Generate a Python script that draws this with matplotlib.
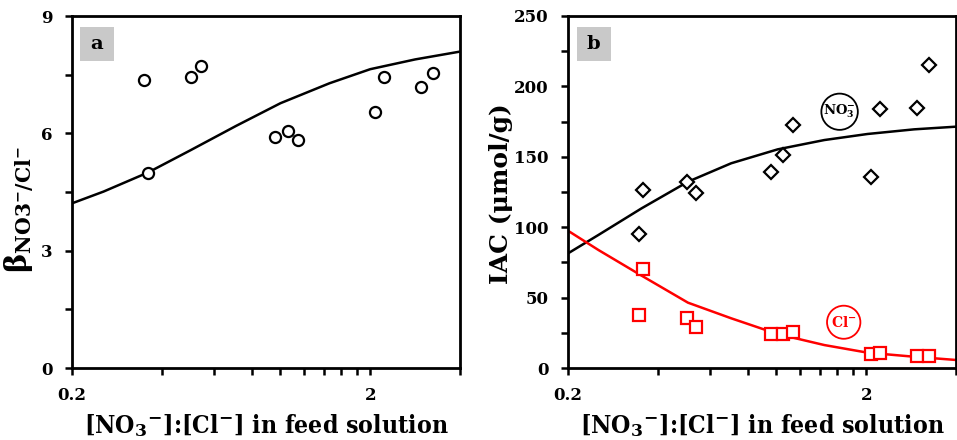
import matplotlib
matplotlib.use("Agg")
import matplotlib.pyplot as plt
from matplotlib.patches import Rectangle, Ellipse
from matplotlib.ticker import FixedLocator, NullFormatter

# ---------------- data ----------------
# panel a: selectivity coefficient
x_pts = [0.348, 0.360, 0.503, 0.542, 0.962, 1.061, 1.146, 2.07, 2.23, 2.96, 3.25]
beta_pts = [7.36, 4.99, 7.44, 7.73, 5.91, 6.06, 5.82, 6.55, 7.44, 7.19, 7.54]
beta_curve_x = [0.2, 0.255, 0.36, 0.5, 0.71, 1.0, 1.46, 2.0, 2.83, 4.0]
beta_curve_y = [4.21, 4.51, 5.00, 5.57, 6.19, 6.77, 7.28, 7.64, 7.89, 8.09]

# panel b: IAC
x_no3 = [0.358, 0.346, 0.50, 0.539, 0.957, 1.055, 1.137, 2.07, 2.22, 2.96, 3.24]
iac_no3 = [126.4, 95.2, 132.3, 124.5, 139.4, 151.3, 172.6, 135.9, 183.7, 184.9, 215.2]
x_cl = [0.358, 0.346, 0.50, 0.539, 0.957, 1.055, 1.137, 2.07, 2.22, 2.96, 3.24]
iac_cl = [70.1, 37.4, 35.3, 29.1, 24.4, 23.9, 25.8, 9.9, 10.9, 8.5, 8.5]
no3_curve_x = [0.2, 0.253, 0.353, 0.505, 0.705, 1.01, 1.447, 2.02, 2.895, 4.0]
no3_curve_y = [81.4, 94.5, 113.4, 132.3, 145.4, 155.3, 161.9, 166.2, 169.5, 171.4]
cl_curve_x = [0.2, 0.253, 0.353, 0.505, 0.705, 1.01, 1.447, 2.02, 2.895, 4.0]
cl_curve_y = [97.5, 83.8, 65.6, 46.4, 35.3, 24.1, 16.3, 10.9, 8.0, 5.7]

x_major = [0.2, 2]
x_major_labels = ["0.2", "2"]
x_minor = [0.4, 0.6, 0.8, 1.0, 1.2, 1.4, 1.6, 1.8, 4.0]
ya_ticks = [0, 3, 6, 9]
ya_minor = [1.5, 4.5, 7.5]
yb_ticks = [0, 50, 100, 150, 200, 250]
yb_minor = [25, 75, 125, 175, 225]

plt.rcParams["font.family"] = ["DejaVu Serif"]
plt.rcParams["font.weight"] = "bold"
plt.rcParams["mathtext.fontset"] = "custom"
plt.rcParams["mathtext.rm"] = "DejaVu Serif:bold"
plt.rcParams["mathtext.bf"] = "DejaVu Serif:bold"
plt.rcParams["mathtext.it"] = "DejaVu Serif:bold"

fig = plt.figure(figsize=(9.57, 4.40), dpi=100)
axA = fig.add_axes([72 / 957, 72 / 440, 388 / 957, 352 / 440])
axB = fig.add_axes([568 / 957, 72 / 440, 388 / 957, 352 / 440])

xlabel = r"[NO$_3$$^{-}$]:[Cl$^{-}$] in feed solution"


def style(ax, yticks, ymax, yminor):
    ax.set_xscale("log")
    ax.set_xlim(0.2, 4.0)
    ax.set_ylim(0, ymax)
    ax.xaxis.set_major_locator(FixedLocator(x_major))
    ax.set_xticklabels(x_major_labels)
    ax.xaxis.set_minor_locator(FixedLocator(x_minor))
    ax.xaxis.set_minor_formatter(NullFormatter())
    ax.set_yticks(yticks)
    ax.yaxis.set_minor_locator(FixedLocator(yminor))
    for s in ax.spines.values():
        s.set_linewidth(2.0)
    ax.tick_params(which="both", direction="out", width=1.8, length=5,
                   labelsize=12, pad=9)
    for lab in ax.get_xticklabels() + ax.get_yticklabels():
        lab.set_fontweight("bold")
    ax.set_xlabel(xlabel, fontsize=17.8, fontweight="bold", labelpad=5.5,
                  fontstretch="condensed")


# ---------------- panel a ----------------
axA.plot(beta_curve_x, beta_curve_y, color="black", lw=1.8, zorder=2)
axA.plot(x_pts, beta_pts, ls="none", marker="o", ms=8, mfc="white",
         mec="black", mew=1.6, zorder=3)
style(axA, ya_ticks, 9, ya_minor)
axA.set_ylabel(r"β$_{\mathrm{NO3^{-}/Cl^{-}}}$", fontsize=21, fontweight="bold")
axA.yaxis.set_label_coords(-0.092, 0.45)
axA.add_patch(Rectangle((0.021, 0.872), 0.087, 0.097, transform=axA.transAxes,
                        facecolor="#c9c9c9", edgecolor="none", zorder=1))
axA.text(0.0645, 0.921, "a", transform=axA.transAxes, ha="center", va="center",
         fontsize=14, fontweight="bold")

# ---------------- panel b ----------------
axB.plot(no3_curve_x, no3_curve_y, color="black", lw=1.8, zorder=2)
axB.plot(cl_curve_x, cl_curve_y, color="#ff0000", lw=1.8, zorder=2)
axB.plot(x_no3, iac_no3, ls="none", marker="D", ms=7.5, mfc="white",
         mec="black", mew=1.6, zorder=3)
axB.plot(x_cl, iac_cl, ls="none", marker="s", ms=9, mfc="white",
         mec="#ff0000", mew=1.6, zorder=3)
style(axB, yb_ticks, 250, yb_minor)
axB.set_ylabel("IAC (μmol/g)", fontsize=18, fontweight="bold")
axB.yaxis.set_label_coords(-0.142, 0.496)
axB.add_patch(Rectangle((0.023, 0.872), 0.087, 0.097, transform=axB.transAxes,
                        facecolor="#c9c9c9", edgecolor="none", zorder=1))
axB.text(0.0665, 0.921, "b", transform=axB.transAxes, ha="center", va="center",
         fontsize=14, fontweight="bold")

axB.add_patch(Ellipse((0.700, 0.728), 0.094, 0.103, transform=axB.transAxes,
                      facecolor="white", edgecolor="black", lw=1.3, zorder=4))
axB.text(0.700, 0.728, r"NO$_3^{-}$", transform=axB.transAxes, ha="center",
         va="center", fontsize=9.5, fontweight="bold", zorder=5)
axB.add_patch(Ellipse((0.7106, 0.130), 0.086, 0.094, transform=axB.transAxes,
                      facecolor="white", edgecolor="#ff0000", lw=1.3, zorder=4))
axB.text(0.7106, 0.130, r"Cl$^{-}$", transform=axB.transAxes, ha="center",
         va="center", fontsize=10, fontweight="bold", color="#ff0000", zorder=5)

fig.savefig("out.png", dpi=100)
